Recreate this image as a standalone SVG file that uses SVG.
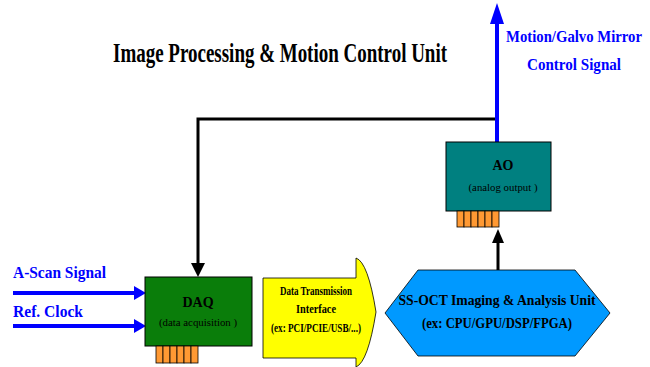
<svg xmlns="http://www.w3.org/2000/svg" width="650" height="367" viewBox="0 0 650 367">
  <style>
    text { font-family: "Liberation Serif", "DejaVu Serif", "Times New Roman", serif; font-weight: 700; }
    .title { font-size: 27px; fill: #000; }
    .blue { font-size: 17.5px; fill: #0000ff; }
    .big { font-size: 14px; fill: #000; text-anchor: middle; }
    .small { font-size: 10.5px; fill: #000; text-anchor: middle; font-weight: 400; }
    .mid { font-size: 12px; fill: #000; text-anchor: middle; }
    .hex { font-size: 15.5px; fill: #000; text-anchor: middle; }
    .box { stroke: #000; stroke-width: 1; }
    .pin { fill: #ff9933; stroke: #000; stroke-width: 0.8; }
    .blk { stroke: #000; stroke-width: 3; fill: none; }
    .sig { stroke: #0000ff; stroke-width: 4; fill: none; }
  </style>

  <rect width="650" height="367" fill="#fff"/>

  <text class="title" x="113" y="62" textLength="334" lengthAdjust="spacingAndGlyphs">Image Processing &amp; Motion Control Unit</text>

  <g id="connectors">
    <!-- feedback path: AO column back to the DAQ -->
    <polyline class="blk" points="497,140 497,119 198,119 198,264"/>
    <polygon points="191,263 205,263 198,277" fill="#000"/>
    <!-- analysis unit to AO -->
    <line class="blk" x1="498" y1="270" x2="498" y2="241"/>
    <polygon points="492,243 504,243 498,229" fill="#000"/>
    <!-- motion / galvo output -->
    <line class="sig" x1="497" y1="142" x2="497" y2="22"/>
    <polygon points="490,24 504,24 497,3" fill="#0000ff"/>
    <!-- incoming signals -->
    <line class="sig" x1="13" y1="293" x2="137" y2="293"/>
    <polygon points="134,286 134,300 146,293" fill="#0000ff"/>
    <line class="sig" x1="13" y1="326" x2="137" y2="326"/>
    <polygon points="134,319 134,333 146,326" fill="#0000ff"/>
  </g>

  <text class="blue" x="13" y="278" textLength="93" lengthAdjust="spacingAndGlyphs">A-Scan Signal</text>
  <text class="blue" x="13" y="317" textLength="70" lengthAdjust="spacingAndGlyphs">Ref. Clock</text>
  <text class="blue" x="574" y="42" text-anchor="middle" textLength="136" lengthAdjust="spacingAndGlyphs">Motion/Galvo Mirror</text>
  <text class="blue" x="574" y="70" text-anchor="middle" textLength="94" lengthAdjust="spacingAndGlyphs">Control Signal</text>

  <g id="daq">
    <rect class="box" x="145" y="277" width="107" height="69" fill="#0a7d0a"/>
    <rect class="pin" x="156" y="346" width="7" height="17"/>
    <rect class="pin" x="163" y="346" width="7" height="17"/>
    <rect class="pin" x="170" y="346" width="7" height="17"/>
    <rect class="pin" x="177" y="346" width="7" height="17"/>
    <rect class="pin" x="184" y="346" width="7" height="17"/>
    <rect class="pin" x="191" y="346" width="7" height="17"/>
    <text class="big" x="198" y="307">DAQ</text>
    <text class="small" x="198" y="326" textLength="78" lengthAdjust="spacingAndGlyphs">(data acquisition )</text>
  </g>

  <g id="interface">
    <path d="M263,278 H356 V258 Q368,262 376,312 Q368,362 356,367 V358 H263 Z" fill="#ffff00" stroke="#000" stroke-width="0.8"/>
    <text class="mid" x="316" y="295" textLength="72" lengthAdjust="spacingAndGlyphs">Data Transmission</text>
    <text class="mid" x="316" y="313" textLength="40" lengthAdjust="spacingAndGlyphs">Interface</text>
    <text class="mid" x="316" y="332" textLength="90" lengthAdjust="spacingAndGlyphs">(ex: PCI/PCIE/USB/...)</text>
  </g>

  <g id="ssoct">
    <polygon points="385,313 418,270 575,270 610,313 575,356 418,356" fill="#0099ff" stroke="#000" stroke-width="0.8"/>
    <text class="hex" x="497" y="305" textLength="197" lengthAdjust="spacingAndGlyphs">SS-OCT Imaging &amp; Analysis Unit</text>
    <text class="hex" x="497" y="328" textLength="150" lengthAdjust="spacingAndGlyphs">(ex: CPU/GPU/DSP/FPGA)</text>
  </g>

  <g id="ao">
    <rect class="box" x="446" y="142" width="105" height="69" fill="#008080"/>
    <rect class="pin" x="457" y="211" width="7" height="16"/>
    <rect class="pin" x="464" y="211" width="7" height="16"/>
    <rect class="pin" x="471" y="211" width="7" height="16"/>
    <rect class="pin" x="478" y="211" width="7" height="16"/>
    <rect class="pin" x="485" y="211" width="7" height="16"/>
    <rect class="pin" x="492" y="211" width="7" height="16"/>
    <text class="big" x="503" y="170">AO</text>
    <text class="small" x="503" y="191" textLength="69" lengthAdjust="spacingAndGlyphs">(analog output )</text>
  </g>
</svg>
